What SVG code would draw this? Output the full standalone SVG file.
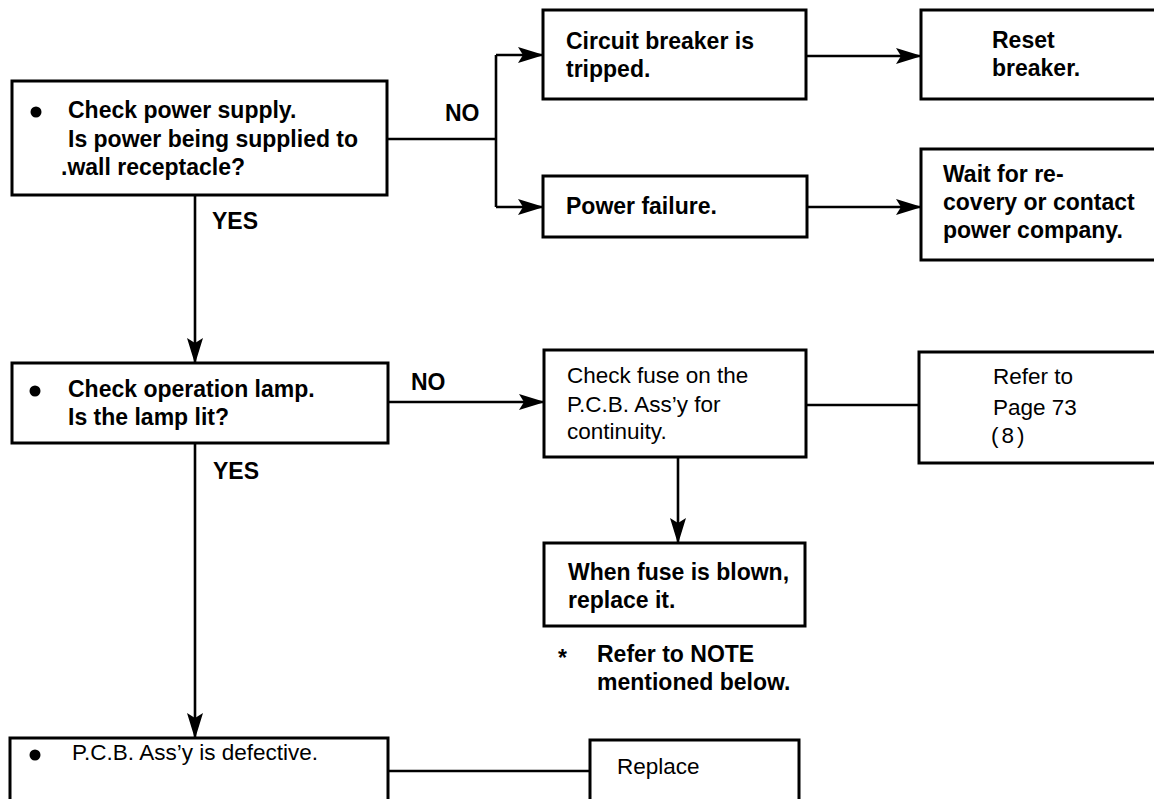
<svg xmlns="http://www.w3.org/2000/svg" width="1154" height="799" viewBox="0 0 1154 799">
<defs>
<marker id="arr" markerUnits="userSpaceOnUse" markerWidth="26" markerHeight="16" refX="25" refY="8" orient="auto">
<path d="M0,0 L26,8 L0,16 L5,8 z" fill="#000"/>
</marker>
<style>
.box{fill:#fff;stroke:#000;stroke-width:3}
.ln{fill:none;stroke:#000;stroke-width:2.6}
.b{font-family:"Liberation Sans",Arial,sans-serif;font-weight:bold;font-size:23px;fill:#000}
.r{font-family:"Liberation Sans",Arial,sans-serif;font-size:22.5px;fill:#000}
</style>
</defs>
<rect width="1154" height="799" fill="#fff"/>
<g id="connectors">
<path class="ln" d="M387,139 H496"/>
<path class="ln" d="M496,55 V207"/>
<path class="ln" d="M496,55 H543" marker-end="url(#arr)"/>
<path class="ln" d="M496,207 H543" marker-end="url(#arr)"/>
<path class="ln" d="M806,56 H921" marker-end="url(#arr)"/>
<path class="ln" d="M807,207 H921" marker-end="url(#arr)"/>
<path class="ln" d="M195,195 V363" marker-end="url(#arr)"/>
<path class="ln" d="M388,402 H544" marker-end="url(#arr)"/>
<path class="ln" d="M806,405 H919"/>
<path class="ln" d="M678,457 V543" marker-end="url(#arr)"/>
<path class="ln" d="M195,443 V738" marker-end="url(#arr)"/>
<path class="ln" d="M388,771 H590"/>
<text class="b" x="445" y="121">NO</text>
<text class="b" x="212" y="229">YES</text>
<text class="b" x="411" y="390">NO</text>
<text class="b" x="213" y="479">YES</text>
</g>
<g id="n-power">
<rect class="box" x="12" y="81" width="375" height="114"/>
<circle cx="36" cy="112" r="5.5"/>
<text class="b" x="68" y="118">Check power supply.</text>
<text class="b" x="68" y="147">Is power being supplied to</text>
<text class="b" x="61" y="175">.wall receptacle?</text>
</g>
<g id="n-breaker">
<rect class="box" x="543" y="10" width="263" height="89"/>
<text class="b" x="566" y="49">Circuit breaker is</text>
<text class="b" x="566" y="77">tripped.</text>
</g>
<g id="n-reset">
<rect class="box" x="921" y="10" width="240" height="89"/>
<text class="b" x="992" y="48">Reset</text>
<text class="b" x="992" y="76">breaker.</text>
</g>
<g id="n-failure">
<rect class="box" x="543" y="176" width="264" height="61"/>
<text class="b" x="566" y="214">Power failure.</text>
</g>
<g id="n-wait">
<rect class="box" x="921" y="149" width="240" height="111"/>
<text class="b" x="943" y="182">Wait for re-</text>
<text class="b" x="943" y="210">covery or contact</text>
<text class="b" x="943" y="238">power company.</text>
</g>
<g id="n-lamp">
<rect class="box" x="12" y="363" width="376" height="80"/>
<circle cx="35" cy="391" r="5.5"/>
<text class="b" x="68" y="397">Check operation lamp.</text>
<text class="b" x="68" y="425">Is the lamp lit?</text>
</g>
<g id="n-fuse">
<rect class="box" x="544" y="350" width="262" height="107"/>
<text class="r" x="567" y="383">Check fuse on the</text>
<text class="r" x="567" y="412">P.C.B. Ass’y for</text>
<text class="r" x="567" y="439">continuity.</text>
</g>
<g id="n-refer">
<rect class="box" x="919" y="352" width="242" height="111"/>
<text class="r" x="993" y="384">Refer to</text>
<text class="r" x="993" y="415">Page 73</text>
<text class="r" x="991" y="443" letter-spacing="3">(8)</text>
</g>
<g id="n-blown">
<rect class="box" x="544" y="543" width="261" height="83"/>
<text class="b" x="568" y="580">When fuse is blown,</text>
<text class="b" x="568" y="608">replace it.</text>
</g>
<g id="n-note">
<text class="b" x="558" y="666" font-size="20">*</text>
<text class="b" x="597" y="662">Refer to NOTE</text>
<text class="b" x="597" y="690">mentioned below.</text>
</g>
<g id="n-defective">
<rect class="box" x="10" y="738" width="378" height="66"/>
<circle cx="35" cy="755" r="5.5"/>
<text class="r" x="72" y="760">P.C.B. Ass’y is defective.</text>
</g>
<g id="n-replace">
<rect class="box" x="590" y="740" width="209" height="64"/>
<text class="r" x="617" y="774">Replace</text>
</g>
</svg>
